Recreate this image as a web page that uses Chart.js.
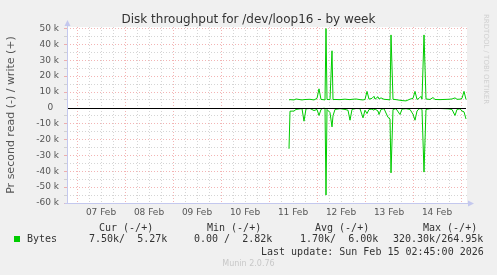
<!DOCTYPE html>
<html>
<head>
<meta charset="utf-8">
<script src="https://cdn.jsdelivr.net/npm/chart.js@4/dist/chart.umd.min.js"></script>
<style>
  html, body { margin: 0; padding: 0; background: #f0f0f0; }
  #wrap { position: relative; width: 497px; height: 275px; overflow: hidden; }
  #Chart { position: absolute; left: 0; top: 0; }
  .t { position: absolute; white-space: pre; color: #333; }
  .mono { font: 10px "DejaVu Sans Mono", monospace; line-height: 12px; }
  #title { left: 0; width: 497px; top: 11px; text-align: center; font: 12px "DejaVu Sans", sans-serif; line-height: 16px; color: #333; }
  #munin { left: 0; width: 497px; top: 259px; text-align: center; font: 8px "DejaVu Sans", sans-serif; line-height: 10px; color: #c8c8c8; }
  #rrd { left: 482px; top: 14px; writing-mode: vertical-rl; font: 7px "DejaVu Sans", sans-serif; color: #d0d0d0; }
  #swatch { position: absolute; left: 14px; top: 236px; width: 6px; height: 6px; background: #00cc00; }
</style>
</head>
<body>
<div id="wrap">
  <canvas id="Chart" width="497" height="275"></canvas>
  <div class="t" id="title">Disk throughput for /dev/loop16 - by week</div>
  <div class="t" id="rrd">RRDTOOL / TOBI OETIKER</div>
  <div class="t mono" style="left:99px; top:222px">Cur (-/+)</div>
  <div class="t mono" style="left:207px; top:222px">Min (-/+)</div>
  <div class="t mono" style="left:315px; top:222px">Avg (-/+)</div>
  <div class="t mono" style="left:423px; top:222px">Max (-/+)</div>
  <div id="swatch"></div>
  <div class="t mono" style="left:27px; top:233px">Bytes</div>
  <div class="t mono" id="cur" style="left:89px; top:233px"></div>
  <div class="t mono" id="min" style="left:194px; top:233px"></div>
  <div class="t mono" id="avg" style="left:300px; top:233px"></div>
  <div class="t mono" id="max" style="left:393px; top:233px"></div>
  <div class="t mono" style="left:261px; top:246px">Last update: Sun Feb 15 02:45:00 2026</div>
  <div class="t" id="munin">Munin 2.0.76</div>
</div>
<script>
// hours since 07 Feb 00:00
const hours = [106, 106.5, 108.5, 109.5, 111.5, 112.5, 113.5, 114.5, 116.5, 118.5,
  120, 121, 122, 123, 124, 124.5, 125, 126.5, 127.5, 128,
  129, 131.5, 134, 135.5, 136.5, 137.5, 139.5, 141.5, 143, 144,
  145, 146, 147.5, 148.5, 149, 150.5, 151, 152, 153.5, 155.5,
  156.5, 157, 158, 159.5, 161.5, 162.5, 164.5, 166.5, 168, 169,
  170, 171, 172, 172.5, 173.5, 174.5, 176.5, 178, 179, 181.5,
  185.5, 187.5, 189, 190, 191.5, 192.5, 193.5, 194.5];
// write bytes/s (k)
const writeK = [5.0, 5.2, 5.0, 5.6, 5.2, 5.0, 5.2, 5.3, 5.4, 5.0,
  6.0, 12.0, 5.3, 5.2, 5.0, 50, 5.3, 5.2, 36, 5.2,
  5.3, 5.2, 5.5, 5.3, 5.2, 5.4, 5.6, 5.2, 5.0, 5.3,
  10.4, 5.5, 6.0, 7.3, 5.5, 7.0, 5.6, 6.3, 5.4, 5.2,
  5.0, 46, 5.4, 5.2, 4.8, 4.6, 4.4, 5.5, 6.0, 10.4,
  5.3, 6.0, 7.3, 5.5, 46, 5.6, 5.3, 6.5, 5.3, 5.2,
  5.4, 5.6, 6.3, 5.4, 5.5, 6.0, 10.4, 5.3];
// read bytes/s (k), drawn below zero
const readK = [25.8, 2.1, 2.0, 1.0, 0.6, 0.5, 8.4, 0.6, 0.4, 1.7,
  1.0, 4.8, 1.0, 0.3, 0.3, 55, 1.0, 3.0, 12, 5,
  1, 0.5, 1.0, 1.5, 7.8, 1.0, 0.4, 0.5, 6.3, 1.5,
  3.6, 1.0, 0.8, 1.5, 0.7, 2.0, 4.2, 1.0, 0.5, 6.0,
  7.0, 41, 1.0, 0.5, 4.2, 0.8, 0.5, 1.0, 4.0, 7.8,
  2.0, 0.6, 0.5, 1.0, 40.5, 1.0, 0.5, 0.4, 0.4, 0.4,
  0.6, 1.0, 4.8, 1.0, 0.6, 2.0, 2.5, 7.0];

const dayLabels = ['07 Feb', '08 Feb', '09 Feb', '10 Feb', '11 Feb', '12 Feb', '13 Feb', '14 Feb'];
const yTicks = [-60, -55, -50, -45, -40, -35, -30, -25, -20, -15, -10, -5, 0, 5, 10, 15, 20, 25, 30, 35, 40, 45, 50];

const legendCur = '7.50k/  5.27k';
const legendMin = '0.00 /  2.82k';
const legendAvg = '1.70k/  6.00k';
const legendMax = '320.30k/264.95k';

document.getElementById('cur').textContent = legendCur;
document.getElementById('min').textContent = legendMin;
document.getElementById('avg').textContent = legendAvg;
document.getElementById('max').textContent = legendMax;

const majorGrid = 'rgba(235, 130, 130, 0.6)';
const minorGrid = 'rgba(195, 195, 195, 0.7)';
const axisColor = '#c4c8ee';

// white plot area, zero line and munin style axes with arrows
const muninPlugin = {
  id: 'munin',
  beforeDraw(chart) {
    const {ctx, chartArea: a} = chart;
    ctx.save();
    ctx.fillStyle = '#ffffff';
    ctx.fillRect(a.left, a.top, a.right - a.left, a.bottom - a.top);
    ctx.restore();
  },
  afterDatasetsDraw(chart) {
    const {ctx, chartArea: a} = chart;
    const y0 = Math.round(chart.scales.y.getPixelForValue(0)) + 0.5;
    ctx.save();
    ctx.strokeStyle = '#000000';
    ctx.lineWidth = 1;
    ctx.beginPath();
    ctx.moveTo(a.left, y0);
    ctx.lineTo(a.right - 1, y0);
    ctx.stroke();

    const x = Math.round(a.left) + 0.5;
    const yb = Math.round(a.bottom) + 0.5;
    ctx.strokeStyle = axisColor;
    ctx.beginPath();
    ctx.moveTo(x, yb);
    ctx.lineTo(x, a.top - 4);
    ctx.moveTo(x - 3, yb);
    ctx.lineTo(a.right + 2, yb);
    ctx.stroke();
    ctx.fillStyle = axisColor;
    ctx.beginPath();
    ctx.moveTo(x - 3, a.top - 1);
    ctx.lineTo(x + 3, a.top - 1);
    ctx.lineTo(x, a.top - 7);
    ctx.closePath();
    ctx.fill();
    ctx.beginPath();
    ctx.moveTo(a.right + 1, yb - 3);
    ctx.lineTo(a.right + 1, yb + 3);
    ctx.lineTo(a.right + 7, yb);
    ctx.closePath();
    ctx.fill();
    ctx.restore();
  }
};

const chart = new Chart(document.getElementById('Chart'), {
  type: 'line',
  data: {
    datasets: [{
      label: 'write',
      data: hours.map((h, i) => ({x: h, y: writeK[i]})),
      borderColor: '#00cc00',
      borderWidth: 1,
      pointRadius: 0,
      tension: 0
    }, {
      label: 'read',
      data: hours.map((h, i) => ({x: h, y: -readK[i]})),
      borderColor: '#00cc00',
      borderWidth: 1,
      pointRadius: 0,
      tension: 0
    }]
  },
  options: {
    responsive: false,
    animation: false,
    events: [],
    layout: { padding: { top: 27, right: 30, bottom: 52, left: 0 } },
    plugins: {
      legend: { display: false },
      tooltip: { enabled: false }
    },
    scales: {
      x: {
        type: 'linear',
        min: -5,
        max: 195,
        afterBuildTicks(axis) {
          const ticks = [];
          for (let h = 0; h <= 192; h += 6) ticks.push({value: h});
          axis.ticks = ticks;
        },
        afterFit(axis) { axis.height = 20; },
        ticks: {
          autoSkip: false,
          maxRotation: 0,
          padding: 4,
          color: '#555',
          font: { family: 'DejaVu Sans', size: 9 },
          callback: (v) => (v % 24 === 12 ? dayLabels[(v - 12) / 24] : '')
        },
        grid: {
          drawTicks: false,
          color: (c) => (c.tick && c.tick.value % 24 === 0 ? majorGrid : minorGrid)
        },
        border: { display: false, dash: [1, 2] }
      },
      y: {
        min: -60,
        max: 51,
        afterBuildTicks(axis) { axis.ticks = yTicks.map(v => ({value: v})); },
        afterFit(axis) { axis.width = 67; },
        title: {
          display: true,
          text: 'Pr second read (-) / write (+)',
          color: '#555',
          font: { family: 'DejaVu Sans', size: 11 },
          padding: { top: 5, bottom: 0 }
        },
        ticks: {
          autoSkip: false,
          padding: 5,
          color: '#555',
          font: { family: 'DejaVu Sans', size: 9 },
          callback: (v) => (v === 0 ? '0  ' : (v % 10 === 0 ? v + ' k' : ''))
        },
        grid: {
          tickLength: 3,
          color: (c) => {
            if (!c.tick) return minorGrid;
            if (c.tick.value === 0) return 'rgba(0,0,0,0)';
            return c.tick.value % 10 === 0 ? majorGrid : minorGrid;
          }
        },
        border: { display: false, dash: [1, 2] }
      }
    }
  },
  plugins: [muninPlugin]
});
</script>
</body>
</html>
